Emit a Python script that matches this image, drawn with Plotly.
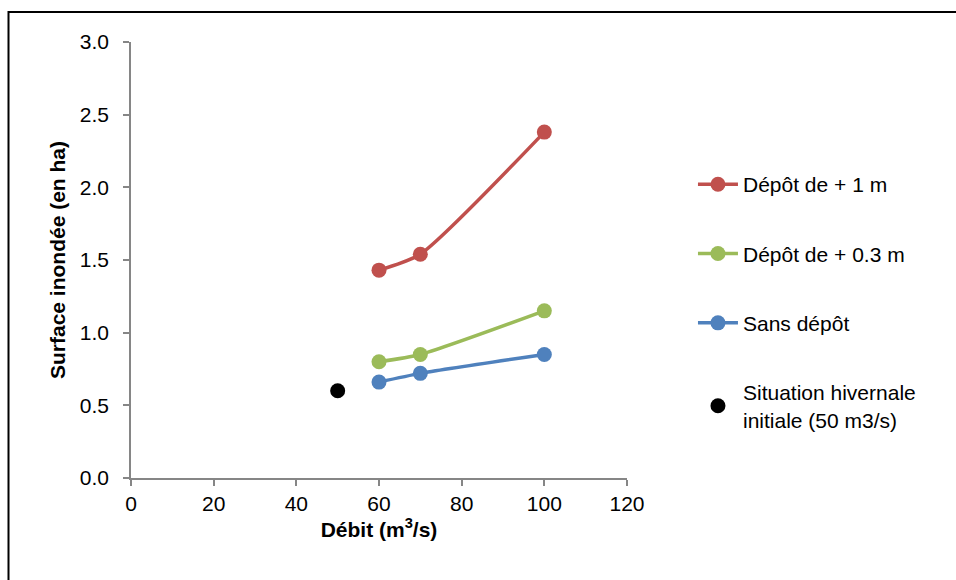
import plotly.graph_objects as go

# Discharge values (m3/s) and flooded area (ha) per scenario
debit = [60, 70, 100]
depot_1m = [1.43, 1.54, 2.38]
depot_03m = [0.80, 0.85, 1.15]
sans_depot = [0.66, 0.72, 0.85]
init_debit = [50]
init_surface = [0.60]

x_ticks = [0, 20, 40, 60, 80, 100, 120]
y_ticks = [0.0, 0.5, 1.0, 1.5, 2.0, 2.5, 3.0]

FONT = "Liberation Sans, Arial, sans-serif"
AXIS_GREY = "#868686"
FS = 21

fig = go.Figure()

series = [
    ("Dépôt de + 1 m", depot_1m, "#C0504D"),
    ("Dépôt de + 0.3 m", depot_03m, "#9BBB59"),
    ("Sans dépôt", sans_depot, "#4F81BD"),
]
for name, vals, color in series:
    fig.add_trace(go.Scatter(
        x=debit, y=vals, name=name, legendgroup=name,
        mode="lines+markers",
        line=dict(color=color, width=3.5, shape="spline", smoothing=0.6),
        marker=dict(color=color, size=15),
    ))

fig.add_trace(go.Scatter(
    x=init_debit, y=init_surface, name="Situation hivernale<br>initiale (50 m3/s)",
    legendgroup="init", mode="markers",
    marker=dict(color="black", size=15),
))

L, R, T, B = 131, 329, 42, 102
W, H = 956, 580
pw, ph = W - L - R, H - T - B

fig.update_layout(
    width=W, height=H,
    margin=dict(l=L, r=R, t=T, b=B),
    paper_bgcolor="white", plot_bgcolor="white",
    font=dict(family=FONT, size=FS, color="black"),
    showlegend=True,
    legend=dict(
        x=1.133, y=0.72, xanchor="left", yanchor="top",
        font=dict(family=FONT, size=FS, color="black"),
        tracegroupgap=39, itemwidth=40,
        bgcolor="rgba(0,0,0,0)",
    ),
    xaxis=dict(
        range=[0, 120], tickvals=x_ticks, ticktext=[str(v) for v in x_ticks],
        showgrid=False, zeroline=False,
        showline=True, linecolor=AXIS_GREY, linewidth=1.5,
        ticks="outside", ticklen=6, tickcolor=AXIS_GREY, tickwidth=1.5,
        tickfont=dict(family=FONT, size=FS),
        title=dict(text="<b>Débit (m<sup>3</sup>/s)</b>", font=dict(family=FONT, size=FS), standoff=6),
    ),
    yaxis=dict(
        range=[0, 3.0], tickvals=y_ticks, ticktext=[f"{v:.1f}" for v in y_ticks],
        showgrid=False, zeroline=False,
        showline=True, linecolor=AXIS_GREY, linewidth=1.5,
        ticks="outside", ticklen=6, tickcolor=AXIS_GREY, tickwidth=1.5,
        ticklabelstandoff=10,
        tickfont=dict(family=FONT, size=FS),
        title=dict(text="<b>Surface inondée (en ha)</b>", font=dict(family=FONT, size=FS), standoff=8),
    ),
)

# Chart frame: left and top edges visible, running off the right and bottom
x0 = (8.5 - L) / pw
y1 = 1 + (T - 12) / ph
x1 = (W + 20 - L) / pw
y0 = -(B + 20) / ph
fig.add_shape(type="rect", xref="paper", yref="paper",
              x0=x0, x1=x1, y0=y0, y1=y1,
              line=dict(color="black", width=2), layer="below")

fig.write_html("out.html")
